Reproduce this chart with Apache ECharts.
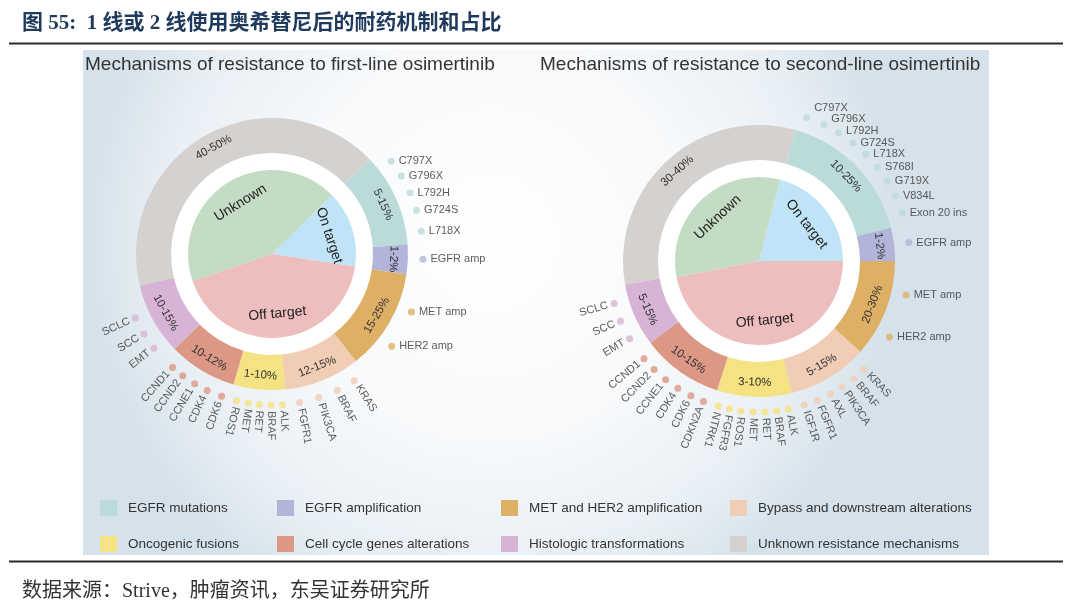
<!DOCTYPE html>
<html><head><meta charset="utf-8">
<script src="https://cdn.jsdelivr.net/npm/echarts@6.0.0/dist/echarts.min.js"></script>
<style>html,body{margin:0;padding:0;background:#fff}#c{width:1080px;height:609px}</style>
</head><body><div id="c"></div>
<script>
// ---------------- data ----------------
const categories = ['EGFR mutations','EGFR amplification','MET and HER2 amplification','Bypass and downstream alterations','Oncogenic fusions','Cell cycle genes alterations','Histologic transformations','Unknown resistance mechanisms'];
const ringShare1 = [40, 12.7, 43.3, 32.4, 22.1, 29.2, 30.8, 149.5];
const ringText1  = ['5-15%','1-2%','15-25%','12-15%','1-10%','10-12%','10-15%','40-50%'];
const ringShare2 = [60.3, 14.2, 41.8, 34.2, 32, 35, 27, 115.5];
const ringText2  = ['10-25%','1-2%','20-30%','5-15%','3-10%','10-15%','5-15%','30-40%'];
const pieNames   = ['On target','Off target','Unknown'];
const pieShare1  = [53.1, 152.6, 154.3];
const pieShare2  = [75.4, 168.9, 115.7];
// sub-mechanisms: name, group index, angular position (deg, counter-clockwise from east)
const subNames1 = ['C797X','G796X','L792H','G724S','L718X','EGFR amp','MET amp','HER2 amp','KRAS','BRAF','PIK3CA','FGFR1','ALK','BRAF','RET','MET','ROS1','CDK6','CDK4','CCNE1','CCND2','CCND1','EMT','SCC','SCLC'];
const subGroup1 = [0,0,0,0,0,1,2,2,3,3,3,3,4,4,4,4,4,5,5,5,5,5,6,6,6];
const subAngle1 = [37.9,31.1,23.9,16.8,8.7,-2,-22.6,-37.6,-57,-64.4,-72,-79.5,-86,-90.4,-94.8,-99,-103.6,-109.5,-115.4,-120.8,-126.2,-131.2,-141.4,-148,-154.9];
const subNames2 = ['C797X','G796X','L792H','G724S','L718X','S768I','G719X','V834L','Exon 20 ins','EGFR amp','MET amp','HER2 amp','KRAS','BRAF','PIK3CA','AXL','FGFR1','IGF1R','ALK','BRAF','RET','MET','ROS1','FGFR3','NTRK1','CDKN2A','CDK6','CDK4','CCNE1','CCND2','CCND1','EMT','SCC','SCLC'];
const subGroup2 = [0,0,0,0,0,0,0,0,0,1,2,2,3,3,3,3,3,3,4,4,4,4,4,4,4,5,5,5,5,5,5,6,6,6];
const subAngle2 = [71.6,64.6,58.2,51.5,45,38.3,31.8,25.4,18.5,7,-13,-30.2,-46.1,-51.2,-56.5,-61.7,-67.3,-72.6,-78.8,-83.3,-87.7,-92.2,-96.9,-101.3,-105.7,-111.6,-116.8,-122.5,-128.2,-134,-139.6,-149,-156.5,-163.7];

// ---------------- styles / layout ----------------
const catColors = ['#bbdbdb','#b2b4d9','#ddb066','#f1cdb6','#f4e283','#dc9785','#d7b4d5','#d4d1cf'];
const pieColors = ['#c0e4f7','#eebdbd','#c3dcc3'];
const FONT = 'Liberation Sans, Arial, sans-serif';
const D1 = {cx:272, cy:254, ringStart:44, pieStart:44.5};
const D2 = {cx:759, cy:261, ringStart:74.5, pieStart:75.4};
const PIE_R = 84, RING_IN = 101, RING_OUT = 136, DOT_R = 151, POLAR_R = 200;

function tangentRot(mid){
  let r = mid - 90;
  while (r < -100) r += 180;
  while (r > 80) r -= 180;
  return r;
}
function withRot(shares, start){
  const total = shares.reduce((a,b)=>a+b,0);
  let acc = start;
  return shares.map(v=>{
    const span = v/total*360;
    const mid = acc - span/2;
    acc -= span;
    return tangentRot(mid);
  });
}
function donutSeries(D, ringShare, ringText, pieShare){
  const ringRot = withRot(ringShare, D.ringStart);
  const pieRot = withRot(pieShare, D.pieStart);
  const common = {type:'pie', center:[D.cx, D.cy], silent:true, animation:false, avoidLabelOverlap:false, labelLine:{show:false}, clockwise:true};
  return [
    Object.assign({}, common, {radius:[0, RING_IN], label:{show:false}, data:[{value:1, name:'', itemStyle:{color:'#ffffff'}}]}),
    Object.assign({}, common, {radius:[0, PIE_R], startAngle:D.pieStart, label:{show:false},
      data: pieNames.map((n,i)=>({name:n, value:pieShare[i], itemStyle:{color:pieColors[i]}}))}),
    Object.assign({}, common, {radius:[30, PIE_R], startAngle:D.pieStart,
      label:{show:true, position:'inside', fontSize:14, color:'#222', fontFamily:FONT, formatter:'{b}'},
      data: pieNames.map((n,i)=>({name:n, value:pieShare[i], itemStyle:{color:'rgba(0,0,0,0)'}, label:{rotate:pieRot[i]}}))}),
    Object.assign({}, common, {radius:[RING_IN, RING_OUT], startAngle:D.ringStart,
      label:{show:true, position:'inside', fontSize:11.5, color:'#333', fontFamily:FONT, formatter:p=>ringText[p.dataIndex]},
      data: categories.map((n,i)=>({name:n, value:ringShare[i], itemStyle:{color:catColors[i]}, label:{rotate:ringRot[i]}}))})
  ];
}
function norm(a){ return a < 0 ? a + 360 : a; }
function subSeries(pi, names, groups, angles){
  const dots = names.map((n,i)=>{
    const a = angles[i];
    const horiz = a > -42;
    return {
      value:[DOT_R, norm(a)], name:n,
      itemStyle:{color:catColors[groups[i]]},
      label: horiz ? {show:true, position:'right', distance:4, offset:[0, a > 55 ? -(a-55)*0.6 : 0]} : {show:false}
    };
  });
  const tags = names.map((n,i)=>{
    const a = angles[i];
    if (a > -42) return null;
    const out = a >= -107;
    return {value:[DOT_R+6, norm(a)], name:n,
      label:{show:true, position: out ? 'right':'left', distance:0, rotate: out ? a : a+180}};
  }).filter(Boolean);
  const lbl = {fontSize:11, color:'#333', fontFamily:FONT, formatter:'{b}'};
  return [
    {type:'scatter', coordinateSystem:'polar', polarIndex:pi, symbolSize:7, silent:true, animation:false, label:lbl, data:dots},
    {type:'scatter', coordinateSystem:'polar', polarIndex:pi, symbolSize:1, silent:true, animation:false,
      itemStyle:{color:'rgba(0,0,0,0)'}, label:lbl, data:tags}
  ];
}
const hiddenAxis = {axisLine:{show:false}, axisTick:{show:false}, axisLabel:{show:false}, splitLine:{show:false}, splitArea:{show:false}};
const legendX = [100, 277, 501, 730];

const option = {
  backgroundColor:'#ffffff',
  animation:false,
  title:[
    {text:'图 55:  1 线或 2 线使用奥希替尼后的耐药机制和占比', left:22, top:13, padding:0,
      textStyle:{fontSize:21, fontWeight:'bold', color:'#1f3a5c', fontFamily:'Liberation Serif, Noto Sans CJK SC'}},
    {text:'Mechanisms of resistance to first-line osimertinib', left:85, top:55, padding:0,
      textStyle:{fontSize:19, fontWeight:'normal', color:'#333', fontFamily:FONT}},
    {text:'Mechanisms of resistance to second-line osimertinib', left:540, top:55, padding:0,
      textStyle:{fontSize:19, fontWeight:'normal', color:'#333', fontFamily:FONT}},
    {text:'数据来源：Strive，肿瘤资讯，东吴证券研究所', left:22, top:582, padding:0,
      textStyle:{fontSize:20, fontWeight:'normal', color:'#333', fontFamily:'Liberation Serif, Noto Sans CJK SC'}}
  ],
  graphic:[
    {type:'rect', z:-10, shape:{x:83, y:50, width:906, height:505},
      style:{fill:{type:'radial', x:0.45, y:0.38, r:0.8, colorStops:[
        {offset:0, color:'#ffffff'},{offset:0.5, color:'#f7f9fb'},{offset:0.82, color:'#e8eff4'},{offset:1, color:'#d6e2eb'}]}}},
    {type:'line', z:-5, shape:{x1:9, y1:43.5, x2:1063, y2:43.5}, style:{stroke:'#2b2b2b', lineWidth:2}},
    {type:'line', z:-5, shape:{x1:9, y1:561.5, x2:1063, y2:561.5}, style:{stroke:'#2b2b2b', lineWidth:2}}
  ],
  legend: legendX.map((x,c)=>({
    orient:'vertical', left:x, top:500, padding:0, itemWidth:17, itemHeight:16, itemGap:20, icon:'rect',
    selectedMode:false, data:[categories[c], categories[c+4]],
    textStyle:{fontSize:13.5, color:'#333', fontFamily:FONT, padding:[0,0,0,6]}
  })),
  polar:[{center:[D1.cx, D1.cy], radius:POLAR_R},{center:[D2.cx, D2.cy], radius:POLAR_R}],
  angleAxis:[0,1].map(i=>Object.assign({polarIndex:i, type:'value', min:0, max:360, startAngle:0, clockwise:false}, hiddenAxis)),
  radiusAxis:[0,1].map(i=>Object.assign({polarIndex:i, type:'value', min:0, max:POLAR_R}, hiddenAxis)),
  series:[].concat(
    donutSeries(D1, ringShare1, ringText1, pieShare1),
    donutSeries(D2, ringShare2, ringText2, pieShare2),
    subSeries(0, subNames1, subGroup1, subAngle1),
    subSeries(1, subNames2, subGroup2, subAngle2)
  )
};
const chart = echarts.init(document.getElementById('c'), null, {renderer:'canvas'});
chart.setOption(option);
</script></body></html>
